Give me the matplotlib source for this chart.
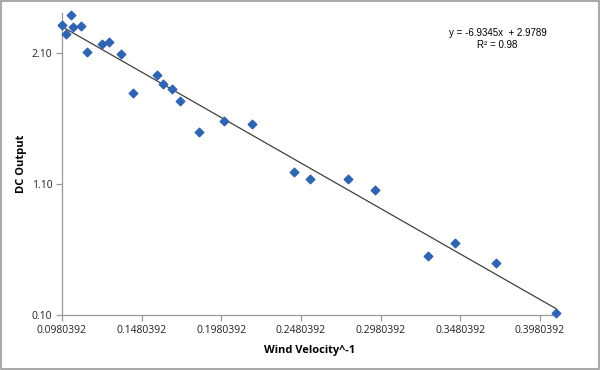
import numpy as np
import matplotlib
matplotlib.use("Agg")
import matplotlib.pyplot as plt
from matplotlib.patches import Rectangle

# data
wind_inv = [0.0980, 0.1004, 0.1035, 0.1049, 0.1100, 0.1139, 0.1231, 0.1275,
            0.1353, 0.1428, 0.1575, 0.1614, 0.1669, 0.1723, 0.1839, 0.1997,
            0.2175, 0.2439, 0.2535, 0.2778, 0.2943, 0.3280, 0.3447, 0.3707,
            0.4081]
dc_output = [2.308, 2.240, 2.385, 2.293, 2.304, 2.108, 2.166, 2.179,
             2.090, 1.795, 1.927, 1.861, 1.823, 1.734, 1.499, 1.581,
             1.558, 1.189, 1.138, 1.136, 1.054, 0.553, 0.647, 0.495,
             0.115]

# trendline reported on the chart
slope = -6.9345
intercept = 2.9789
r_squared = 0.98

x_ticks = [0.0980392, 0.1480392, 0.1980392, 0.2480392, 0.2980392, 0.3480392, 0.3980392]
y_ticks = [0.10, 1.10, 2.10]

plt.rcParams['font.family'] = ['Open Sans', 'DejaVu Sans']

fig = plt.figure(figsize=(6, 3.7), dpi=100)
ax = fig.add_axes([0.1033, 0.1486, 0.8267, 0.8163])

ax.scatter(wind_inv, dc_output, marker='D', s=19, color='#2F64B5',
           edgecolors='#2F64B5', zorder=3, clip_on=False)

xs = np.array([min(wind_inv), max(wind_inv)])
ax.plot(xs, slope * xs + intercept, color='#404040', linewidth=0.9, zorder=2)

ax.set_xlim(0.0980392, 0.4094)
ax.set_ylim(0.10, 2.403)
ax.set_xticks(x_ticks)
ax.set_xticklabels(['%.7f' % v for v in x_ticks])
ax.set_yticks(y_ticks)
ax.set_yticklabels(['%.2f' % v for v in y_ticks])

for s in ['top', 'right']:
    ax.spines[s].set_visible(False)
for s in ['left', 'bottom']:
    ax.spines[s].set_color('#9a9a9a')
    ax.spines[s].set_linewidth(0.9)
ax.tick_params(axis='both', direction='out', length=4, width=0.9,
               color='#9a9a9a', labelsize=7.5, labelcolor='#222222', pad=3)

ax.set_xlabel('Wind Velocity^-1', fontsize=8, fontweight='bold', labelpad=7)
ax.set_ylabel('DC Output', fontsize=8, fontweight='bold', labelpad=3)

fig.text(0.83, 1 - 33 / 370, 'y = -6.9345x  + 2.9789', ha='center', va='center',
         fontsize=7, family=['Liberation Sans', 'DejaVu Sans'])
fig.text(0.828, 1 - 45 / 370, 'R\u00b2 = 0.98', ha='center', va='center',
         fontsize=7, family=['Liberation Sans', 'DejaVu Sans'])

fig.patches.append(Rectangle((0.002, 0.003), 0.996, 0.994, transform=fig.transFigure,
                             fill=False, edgecolor='#9a9a9a', linewidth=1.2))

fig.savefig('out.png', dpi=100)
